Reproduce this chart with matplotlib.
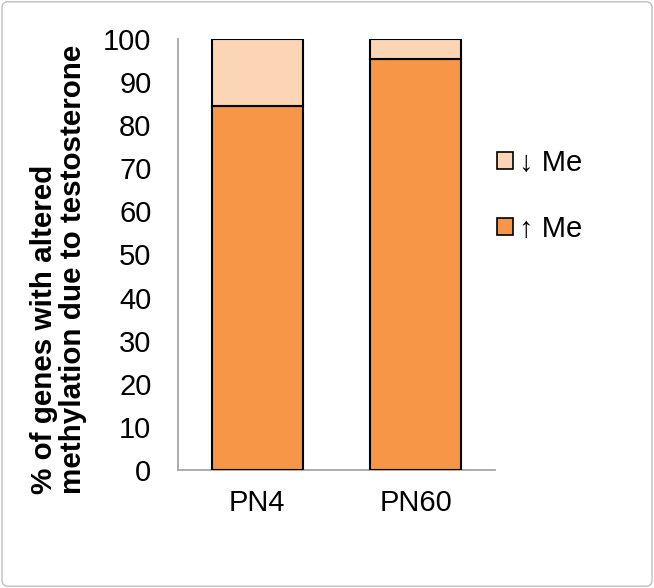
import matplotlib.pyplot as plt
from matplotlib.patches import FancyBboxPatch, Patch

plt.rcParams['font.family'] = ['Liberation Sans', 'DejaVu Sans']

# data
groups = ['PN4', 'PN60']
up_me = [84.4, 95.3]
down_me = [15.6, 4.7]

col_up = '#F79646'
col_down = '#FCD5B5'


def main():
    fig = plt.figure(figsize=(6.54, 5.88), dpi=100)
    ax = fig.add_axes([0.272, 0.2007, 0.485, 0.733])

    x = range(len(groups))
    ax.bar(x, up_me, width=0.575, color=col_up, edgecolor='black', linewidth=1.5, zorder=3)
    ax.bar(x, down_me, bottom=up_me, width=0.575, color=col_down, edgecolor='black',
           linewidth=1.5, zorder=3)

    ax.set_xlim(-0.5, 1.5)
    ax.set_ylim(0, 100)
    ax.set_yticks(range(0, 101, 10))
    ax.set_xticks(list(x))
    ax.set_xticklabels(groups)
    ax.tick_params(axis='y', length=0, pad=19, labelsize=21)
    ax.tick_params(axis='x', length=0, pad=14, labelsize=21)

    for s in ['top', 'right']:
        ax.spines[s].set_visible(False)
    for s in ['left', 'bottom']:
        ax.spines[s].set_color('#A6A6A6')
        ax.spines[s].set_linewidth(1.3)

    ax.set_ylabel('% of genes with altered\nmethylation due to testosterone',
                  fontsize=21.3, fontweight='bold', linespacing=1.05, multialignment='left')
    ax.yaxis.set_label_coords(-0.287, 0.466)

    handles = [Patch(facecolor=col_down, edgecolor='black', linewidth=1.2, label='↓ Me'),
               Patch(facecolor=col_up, edgecolor='black', linewidth=1.2, label='↑ Me')]
    fig.legend(handles=handles, loc='center left', bbox_to_anchor=(0.76, 0.667),
               frameon=False, fontsize=21, handlelength=0.55, handleheight=0.55,
               handletextpad=0.2, labelspacing=1.3, borderpad=0, borderaxespad=0)

    border = FancyBboxPatch((0.003, 0.003), 0.994, 0.994, boxstyle='round,pad=0,rounding_size=0.01',
                            transform=fig.transFigure, facecolor='none',
                            edgecolor='#BFBFBF', linewidth=1.0)
    fig.patches.append(border)

    fig.savefig('out.png', dpi=100)


if __name__ == '__main__':
    main()
